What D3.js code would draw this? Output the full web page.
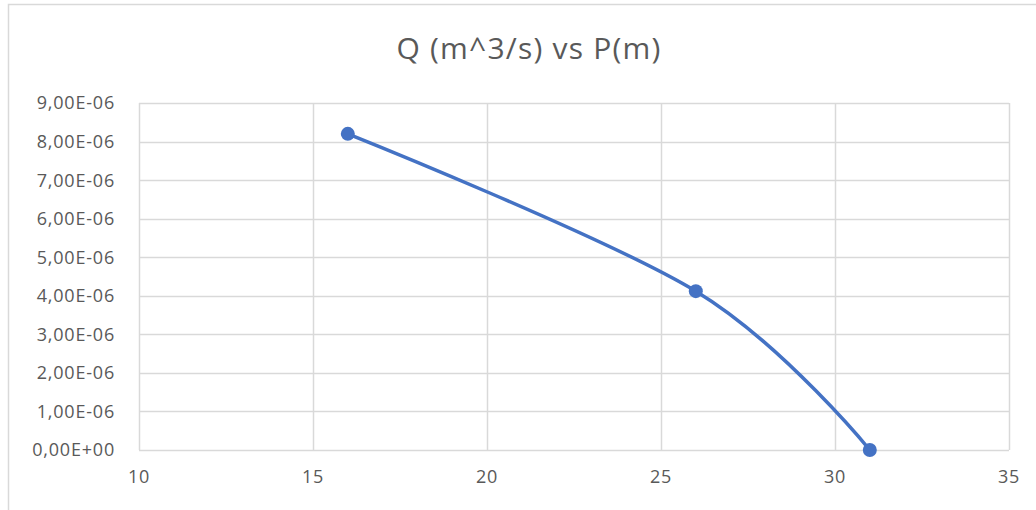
<!DOCTYPE html>
<html><head><meta charset="utf-8">
<script src="https://cdn.jsdelivr.net/npm/d3@7"></script>
<style>body{margin:0;background:#fff}svg{display:block}text{font-family:"Open Sans",sans-serif}</style>
</head><body>
<svg id="c" width="1036" height="510"></svg>
<script>
const title = "Q (m^3/s) vs P(m)";
const pressure = [16, 26, 31];
const flow = [8.2e-6, 4.12e-6, 0];
const xTicks = [10, 15, 20, 25, 30, 35];
const yTicks = [0, 1e-6, 2e-6, 3e-6, 4e-6, 5e-6, 6e-6, 7e-6, 8e-6, 9e-6];

const svg = d3.select("#c");
svg.append("rect").attr("x", 8.5).attr("y", 4.5).attr("width", 1040).attr("height", 520)
  .attr("fill", "#fff").attr("stroke", "#d9d9d9").attr("stroke-width", 1.5);

const x = d3.scaleLinear().domain([10, 35]).range([139, 1009]);
const y = d3.scaleLinear().domain([0, 9e-6]).range([450, 103]);

const fmtY = v => {
  if (v === 0) return "0,00E+00";
  const e = Math.floor(Math.log10(v) + 1e-9);
  const m = v / Math.pow(10, e);
  const es = (e < 0 ? "-" : "+") + String(Math.abs(e)).padStart(2, "0");
  return m.toFixed(2).replace(".", ",") + "E" + es;
};

const g = svg.append("g");
g.selectAll("line.h").data(yTicks).join("line")
  .attr("x1", x(10)).attr("x2", x(35)).attr("y1", d => Math.round(y(d)) + 0.5).attr("y2", d => Math.round(y(d)) + 0.5)
  .attr("stroke", "#d9d9d9").attr("stroke-width", 1.5);
g.selectAll("line.v").data(xTicks).join("line")
  .attr("y1", y(0)).attr("y2", y(9e-6)).attr("x1", d => Math.round(x(d)) + 0.5).attr("x2", d => Math.round(x(d)) + 0.5)
  .attr("stroke", "#d9d9d9").attr("stroke-width", 1.5);

g.selectAll("text.yl").data(yTicks).join("text")
  .attr("x", 115).attr("y", d => y(d)).attr("dy", "0.36em").attr("text-anchor", "end")
  .attr("fill", "#595959").attr("font-size", 18).attr("letter-spacing", 0.8).text(fmtY);
g.selectAll("text.xl").data(xTicks).join("text")
  .attr("x", d => x(d)).attr("y", 477).attr("dy", "0.36em").attr("text-anchor", "middle")
  .attr("fill", "#595959").attr("font-size", 18).attr("letter-spacing", 0.8).text(d => d);

svg.append("text").attr("x", 529).attr("y", 48).attr("dy", "0.36em").attr("text-anchor", "middle")
  .attr("fill", "#595959").attr("font-size", 30).attr("letter-spacing", 1.2).text(title);

const pts = pressure.map((p, i) => [p, flow[i]]);
const line = d3.line().x(d => x(d[0])).y(d => y(d[1])).curve(d3.curveCatmullRom.alpha(0));
svg.append("path").attr("d", line(pts)).attr("fill", "none").attr("stroke", "#4472c4").attr("stroke-width", 3.5);
svg.selectAll("circle").data(pts).join("circle")
  .attr("cx", d => x(d[0])).attr("cy", d => y(d[1])).attr("r", 7).attr("fill", "#4472c4");
</script>
</body></html>
